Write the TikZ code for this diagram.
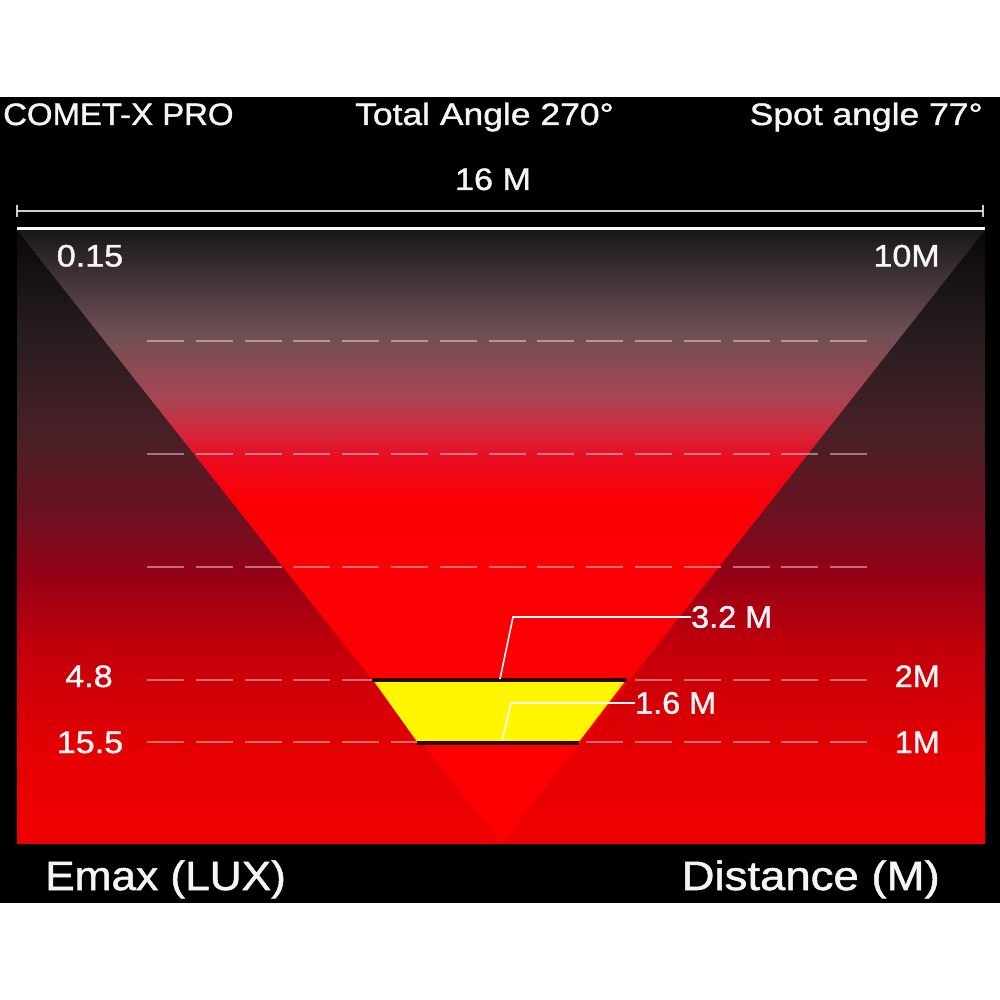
\documentclass[tikz,border=0pt]{standalone}
\usepackage{fontspec}
\setmainfont{Liberation Sans}
\newfontfamily\heavysans[FakeBold=1.2]{Liberation Sans}
\definecolor{oA}{RGB}{240,0,0}
\definecolor{oB}{RGB}{228,0,3}
\definecolor{oC}{RGB}{195,0,10}
\definecolor{oD}{RGB}{152,0,22}
\definecolor{oE}{RGB}{112,16,32}
\definecolor{oF}{RGB}{70,32,38}
\definecolor{oG}{RGB}{38,28,30}
\definecolor{oH}{RGB}{10,8,8}
\definecolor{cA}{RGB}{255,0,0}
\definecolor{cB}{RGB}{250,0,5}
\definecolor{cC}{RGB}{235,10,30}
\definecolor{cD}{RGB}{212,38,58}
\definecolor{cE}{RGB}{170,68,82}
\definecolor{cF}{RGB}{110,80,85}
\definecolor{cG}{RGB}{55,45,48}
\definecolor{cH}{RGB}{25,22,22}
\definecolor{spotyellow}{RGB}{255,246,0}
\definecolor{edgedark}{RGB}{45,5,5}
\definecolor{barcol}{RGB}{205,205,205}
\definecolor{txtcol}{RGB}{245,245,245}
\pgfdeclareverticalshading{outsideshade}{100bp}{color(0bp)=(oA); color(25bp)=(oA); color(32.6bp)=(oB); color(40.7bp)=(oC); color(46.5bp)=(oD); color(51.3bp)=(oE); color(58.7bp)=(oF); color(66.8bp)=(oG); color(75bp)=(oH); color(100bp)=(oH)}
\pgfdeclareverticalshading{coneshade}{100bp}{color(0bp)=(cA); color(25bp)=(cA); color(53bp)=(cB); color(56.2bp)=(cC); color(58.4bp)=(cD); color(61.1bp)=(cE); color(66.6bp)=(cF); color(72bp)=(cG); color(75bp)=(cH); color(100bp)=(cH)}
\tikzset{
  txt/.style={text=txtcol, inner sep=0pt, font=\heavysans\fontsize{31}{36}\selectfont, xscale=1.1},
  bigtxt/.style={text=txtcol, inner sep=0pt, font=\heavysans\fontsize{41}{48}\selectfont, xscale=1.1},
  dashline/.style={white, opacity=0.42, line width=2pt, dash pattern=on 37pt off 11.8pt},
  leader/.style={white, line width=1.6pt},
  edgeline/.style={edgedark, line width=3.5pt}
}
\begin{document}
\begin{tikzpicture}[x=1pt,y=-1pt]
\useasboundingbox (0,0) rectangle (1000,1000);
\fill[white] (0,0) rectangle (1000,1000);
\fill[black] (0,97) rectangle (1000,903);
% panel
\shade[shading=outsideshade] (17,230) rectangle (985,843);
\shade[shading=coneshade] (17,230) -- (985,230) -- (501,843) -- cycle;
% dashed level lines
\foreach \yy in {341,454,567,680,742}
  \draw[dashline] (147,\yy) -- (867,\yy);
% spot trapezoid
\fill[spotyellow] (373,680) -- (626,680) -- (578,743) -- (418,743) -- cycle;
\draw[edgeline] (372,680) -- (627,680);
\draw[edgeline] (417,743) -- (579,743);
% scale bar and top line
\draw[barcol, line width=2.8pt] (17,211) -- (983,211);
\draw[barcol, line width=2.2pt] (17,205) -- (17,217);
\draw[barcol, line width=2.2pt] (983,205) -- (983,217);
\draw[white, line width=3.5pt] (17,228.5) -- (985,228.5);
% texts
\node[txt, anchor=base west, xscale=0.965] (title) at (3,125) {COMET-X PRO};
\node[txt, anchor=base, xscale=1.04] (total) at (484.5,125) {Total Angle 270°};
\node[txt, anchor=base east, xscale=1.04] (spot) at (983,125) {Spot angle 77°};
\node[txt, anchor=base] (span) at (493,190) {16 M};
\node[txt, anchor=base] (v015) at (90,266.5) {0.15};
\node[txt, anchor=base east] (d10) at (940,266.5) {10M};
\node[txt, anchor=base] (v48) at (89,687) {4.8};
\node[txt, anchor=base] (v155) at (90,753) {15.5};
\node[txt, anchor=base east, xscale=0.95] (d2) at (940,687) {2M};
\node[txt, anchor=base east, xscale=0.95] (d1) at (940,753) {1M};
\node[txt, anchor=west, xscale=0.95] (l32) at (691,617) {3.2 M};
\node[txt, anchor=west, xscale=0.95] (l16) at (635,703) {1.6 M};
\node[bigtxt, anchor=base west, xscale=0.98] (emax) at (45,890) {Emax (LUX)};
\node[bigtxt, anchor=base east, xscale=1.01] (dist) at (940,890) {Distance (M)};
% leaders
\coordinate (p32) at (500,679);
\coordinate (k32) at (513,617);
\coordinate (p16) at (502,741);
\coordinate (k16) at (511,703);
\draw[leader] (p32) -- (k32) -- (l32.west);
\draw[leader] (p16) -- (k16) -- (l16.west);
\end{tikzpicture}
\end{document}
